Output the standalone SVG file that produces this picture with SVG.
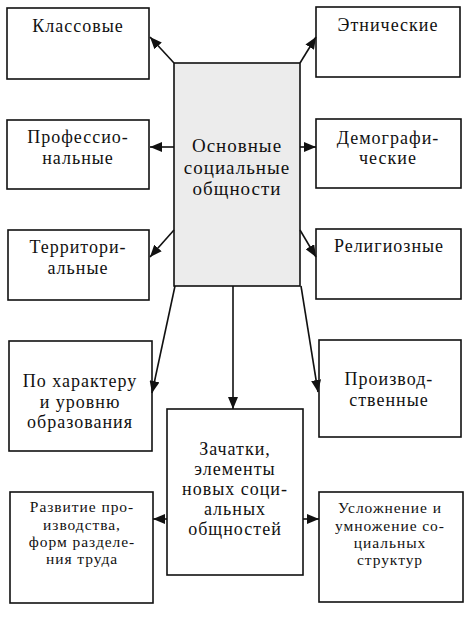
<svg xmlns="http://www.w3.org/2000/svg" width="474" height="619" viewBox="0 0 474 619">
<style>
.box{fill:#fff;stroke:#111;stroke-width:1.6}
.core{fill:#ececec;stroke:#111;stroke-width:1.6}
text{fill:#111;text-anchor:middle}
.t{font-size:18px;letter-spacing:1px}
.c{font-size:19px;letter-spacing:1px}
.s{font-size:15.5px;letter-spacing:0.95px}
.conn line{stroke:#111;stroke-width:1.6;marker-end:url(#ah)}
</style>
<defs>
<marker id="ah" markerUnits="userSpaceOnUse" markerWidth="12" markerHeight="10" viewBox="0 0 12 10" refX="12" refY="5" orient="auto">
<path d="M0,0 L12,5 L0,10 z" fill="#111"/>
</marker>
</defs>
<rect width="474" height="619" fill="#fff"/>
<g font-family="Liberation Serif, DejaVu Serif, serif">
<g id="n-class"><rect class="box" x="7" y="8" width="142" height="71"/><text class="t" x="78" y="32">Классовые</text></g>
<g id="n-prof"><rect class="box" x="7" y="120" width="142" height="69"/><text class="t" x="78" y="143">Профессио-</text><text class="t" x="78" y="164">нальные</text></g>
<g id="n-terr"><rect class="box" x="8" y="230" width="141" height="70"/><text class="t" x="78" y="253">Территори-</text><text class="t" x="78" y="274">альные</text></g>
<g id="n-core"><rect class="core" x="174" y="63" width="126" height="223"/><text class="c" x="237" y="152">Основные</text><text class="c" x="237" y="174">социальные</text><text class="c" x="237" y="195">общности</text></g>
<g id="n-eth"><rect class="box" x="316" y="7" width="144" height="70"/><text class="t" x="388" y="31">Этнические</text></g>
<g id="n-dem"><rect class="box" x="316" y="119" width="145" height="69"/><text class="t" x="388" y="144">Демографи-</text><text class="t" x="388" y="164">ческие</text></g>
<g id="n-rel"><rect class="box" x="316" y="229" width="145" height="70"/><text class="t" x="389" y="252">Религиозные</text></g>
<g id="n-edu"><rect class="box" x="9" y="341" width="143" height="110"/><text class="t" x="80" y="387">По характеру</text><text class="t" x="80" y="408">и уровню</text><text class="t" x="80" y="428">образования</text></g>
<g id="n-prod"><rect class="box" x="319" y="340" width="142" height="97"/><text class="t" x="389" y="385">Производ-</text><text class="t" x="389" y="406">ственные</text></g>
<g id="n-new"><rect class="box" x="167" y="409" width="136" height="166"/><text class="t" x="235" y="455">Зачатки,</text><text class="t" x="235" y="475">элементы</text><text class="t" x="235" y="495">новых соци-</text><text class="t" x="235" y="515">альных</text><text class="t" x="235" y="535">общностей</text></g>
<g id="n-dev"><rect class="box" x="10" y="492" width="143" height="111"/><text class="s" x="82" y="512">Развитие про-</text><text class="s" x="82" y="530">изводства,</text><text class="s" x="82" y="547">форм разделе-</text><text class="s" x="82" y="564">ния труда</text></g>
<g id="n-comp"><rect class="box" x="319" y="492" width="144" height="110"/><text class="s" x="390" y="513">Усложнение и</text><text class="s" x="390" y="531">умножение со-</text><text class="s" x="390" y="548">циальных</text><text class="s" x="390" y="565">структур</text></g>
</g>
<g id="connectors" class="conn">
<line x1="174" y1="63" x2="150" y2="37"/>
<line x1="174" y1="147" x2="150" y2="147"/>
<line x1="174" y1="230" x2="150" y2="257"/>
<line x1="300" y1="63" x2="316" y2="37"/>
<line x1="300" y1="147" x2="316" y2="147"/>
<line x1="300" y1="230" x2="316" y2="257"/>
<line x1="175" y1="286" x2="152" y2="393"/>
<line x1="233" y1="286" x2="233" y2="409"/>
<line x1="301" y1="286" x2="318" y2="392"/>
<line x1="167" y1="519" x2="153" y2="519"/>
<line x1="303" y1="519" x2="319" y2="519"/>
</g>
</svg>
